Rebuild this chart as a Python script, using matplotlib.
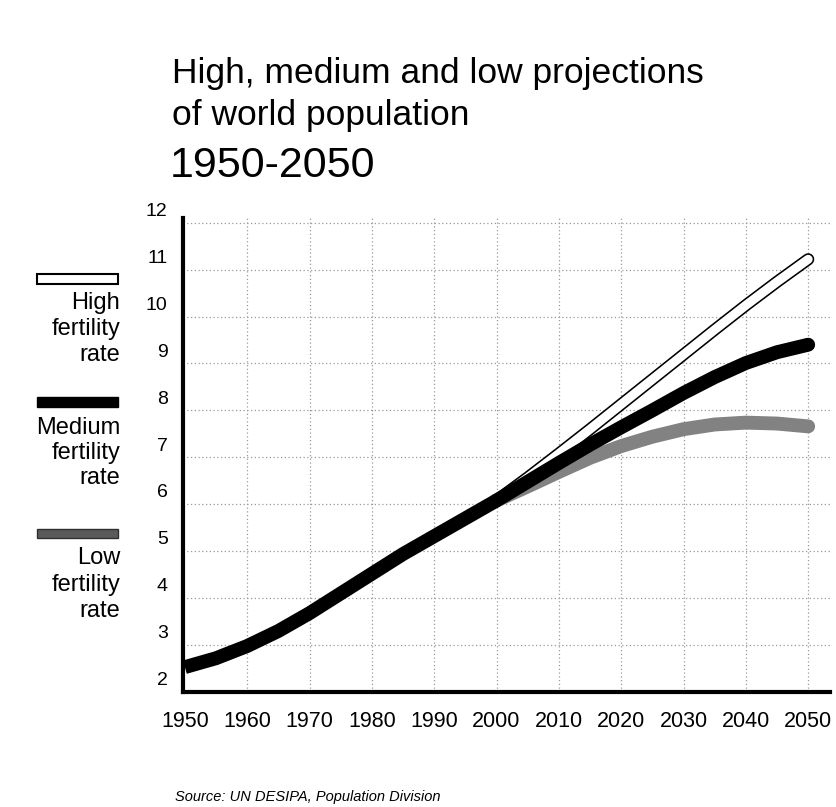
import matplotlib
matplotlib.use("Agg")
import matplotlib.pyplot as plt
import matplotlib.patheffects as pe
from matplotlib.patches import Rectangle
import matplotlib.transforms as mtransforms

plt.rcParams['font.family'] = ['Liberation Sans', 'DejaVu Sans']

# ---- data (world population, billions) ----
years_hist = [1950, 1955, 1960, 1965, 1970, 1975, 1980, 1985, 1990, 1995, 2000]
pop_hist = [2.53, 2.72, 2.98, 3.30, 3.68, 4.10, 4.52, 4.94, 5.32, 5.70, 6.08]
years_proj = [2000, 2005, 2010, 2015, 2020, 2025, 2030, 2035, 2040, 2045, 2050]
high = [6.08, 6.57, 7.08, 7.60, 8.13, 8.66, 9.19, 9.72, 10.24, 10.74, 11.22]
medium = [6.08, 6.48, 6.88, 7.27, 7.64, 8.00, 8.37, 8.71, 9.01, 9.24, 9.40]
low = [6.08, 6.38, 6.69, 6.99, 7.24, 7.44, 7.60, 7.70, 7.74, 7.72, 7.66]
xticks = list(range(1950, 2051, 10))
yticks = list(range(2, 13))

W, H = 836, 807
fig = plt.figure(figsize=(W / 100, H / 100), dpi=100)
fig.patch.set_facecolor('white')

def fx(px):
    return px / W

def fy(py):
    return 1 - py / H

ax = fig.add_axes([fx(183), fy(692), fx(830) - fx(183), fy(218) - fy(692)])
ax.set_xlim(1949.7, 2053.5)
ax.set_ylim(2, 12.1)

# dotted grid
for x in xticks[1:]:
    ax.axvline(x, color='#9a9a9a', lw=0.9, ls=(0, (1, 2)), zorder=0)
for y in yticks[1:]:
    ax.axhline(y, color='#9a9a9a', lw=0.9, ls=(0, (1, 2)), zorder=0)

# lines
ax.plot(years_hist, pop_hist, color='black', lw=10, solid_capstyle='butt',
        solid_joinstyle='round', zorder=5)
ax.plot(years_proj, high, color='white', lw=6.5, solid_capstyle='round', solid_joinstyle='round',
        path_effects=[pe.Stroke(linewidth=8.8, foreground='black'), pe.Normal()], zorder=3)
ax.plot(years_proj, low, color='#828282', lw=10, solid_capstyle='round',
        solid_joinstyle='round', zorder=4)
ax.plot(years_proj, medium, color='black', lw=10, solid_capstyle='round',
        solid_joinstyle='round', zorder=5)

# spines
for s in ['top', 'right']:
    ax.spines[s].set_visible(False)
ax.spines['left'].set_linewidth(3)
ax.spines['bottom'].set_linewidth(3)
ax.spines['left'].set_zorder(6)
ax.spines['bottom'].set_zorder(6)

ax.set_xticks(xticks)
ax.set_xticklabels([str(x) for x in xticks], fontsize=15.5)
ax.set_yticks(yticks)
ax.set_yticklabels([str(y) for y in yticks], fontsize=14)
ax.tick_params(axis='both', length=0)
ax.tick_params(axis='x', pad=14)
ax.tick_params(axis='y', pad=11)
offset = mtransforms.ScaledTranslation(0, 2 / 72, fig.dpi_scale_trans)
for lab in ax.get_yticklabels():
    lab.set_va('bottom')
    lab.set_transform(lab.get_transform() + offset)

# title
fig.text(fx(172), fy(83), "High, medium and low projections", fontsize=25.5, ha='left', va='baseline')
fig.text(fx(172), fy(125), "of world population", fontsize=25.5, ha='left', va='baseline')
fig.text(fx(170), fy(177), "1950-2050", fontsize=31, ha='left', va='baseline')

# legend
sw_x0, sw_x1 = 37, 118
fig.patches.append(Rectangle((fx(sw_x0), fy(284)), fx(sw_x1 - sw_x0), 10 / H,
                             transform=fig.transFigure, facecolor='white', edgecolor='black', lw=1.5))
fig.patches.append(Rectangle((fx(sw_x0), fy(407)), fx(sw_x1 - sw_x0), 10 / H,
                             transform=fig.transFigure, facecolor='black', edgecolor='black', lw=1))
fig.patches.append(Rectangle((fx(sw_x0), fy(538)), fx(sw_x1 - sw_x0), 9 / H,
                             transform=fig.transFigure, facecolor='#5a5a5a', edgecolor='#303030', lw=1))

legend_lines = [("High", 303), ("fertility", 329), ("rate", 355),
                ("Medium", 428), ("fertility", 453), ("rate", 478),
                ("Low", 558), ("fertility", 585), ("rate", 611)]
for txt, ypx in legend_lines:
    fig.text(fx(120), fy(ypx), txt, fontsize=17, ha='right', va='center')

fig.text(fx(175), fy(797), "Source: UN DESIPA, Population Division", fontsize=10.5,
         style='italic', ha='left', va='center')

fig.savefig("out.png", dpi=100)
